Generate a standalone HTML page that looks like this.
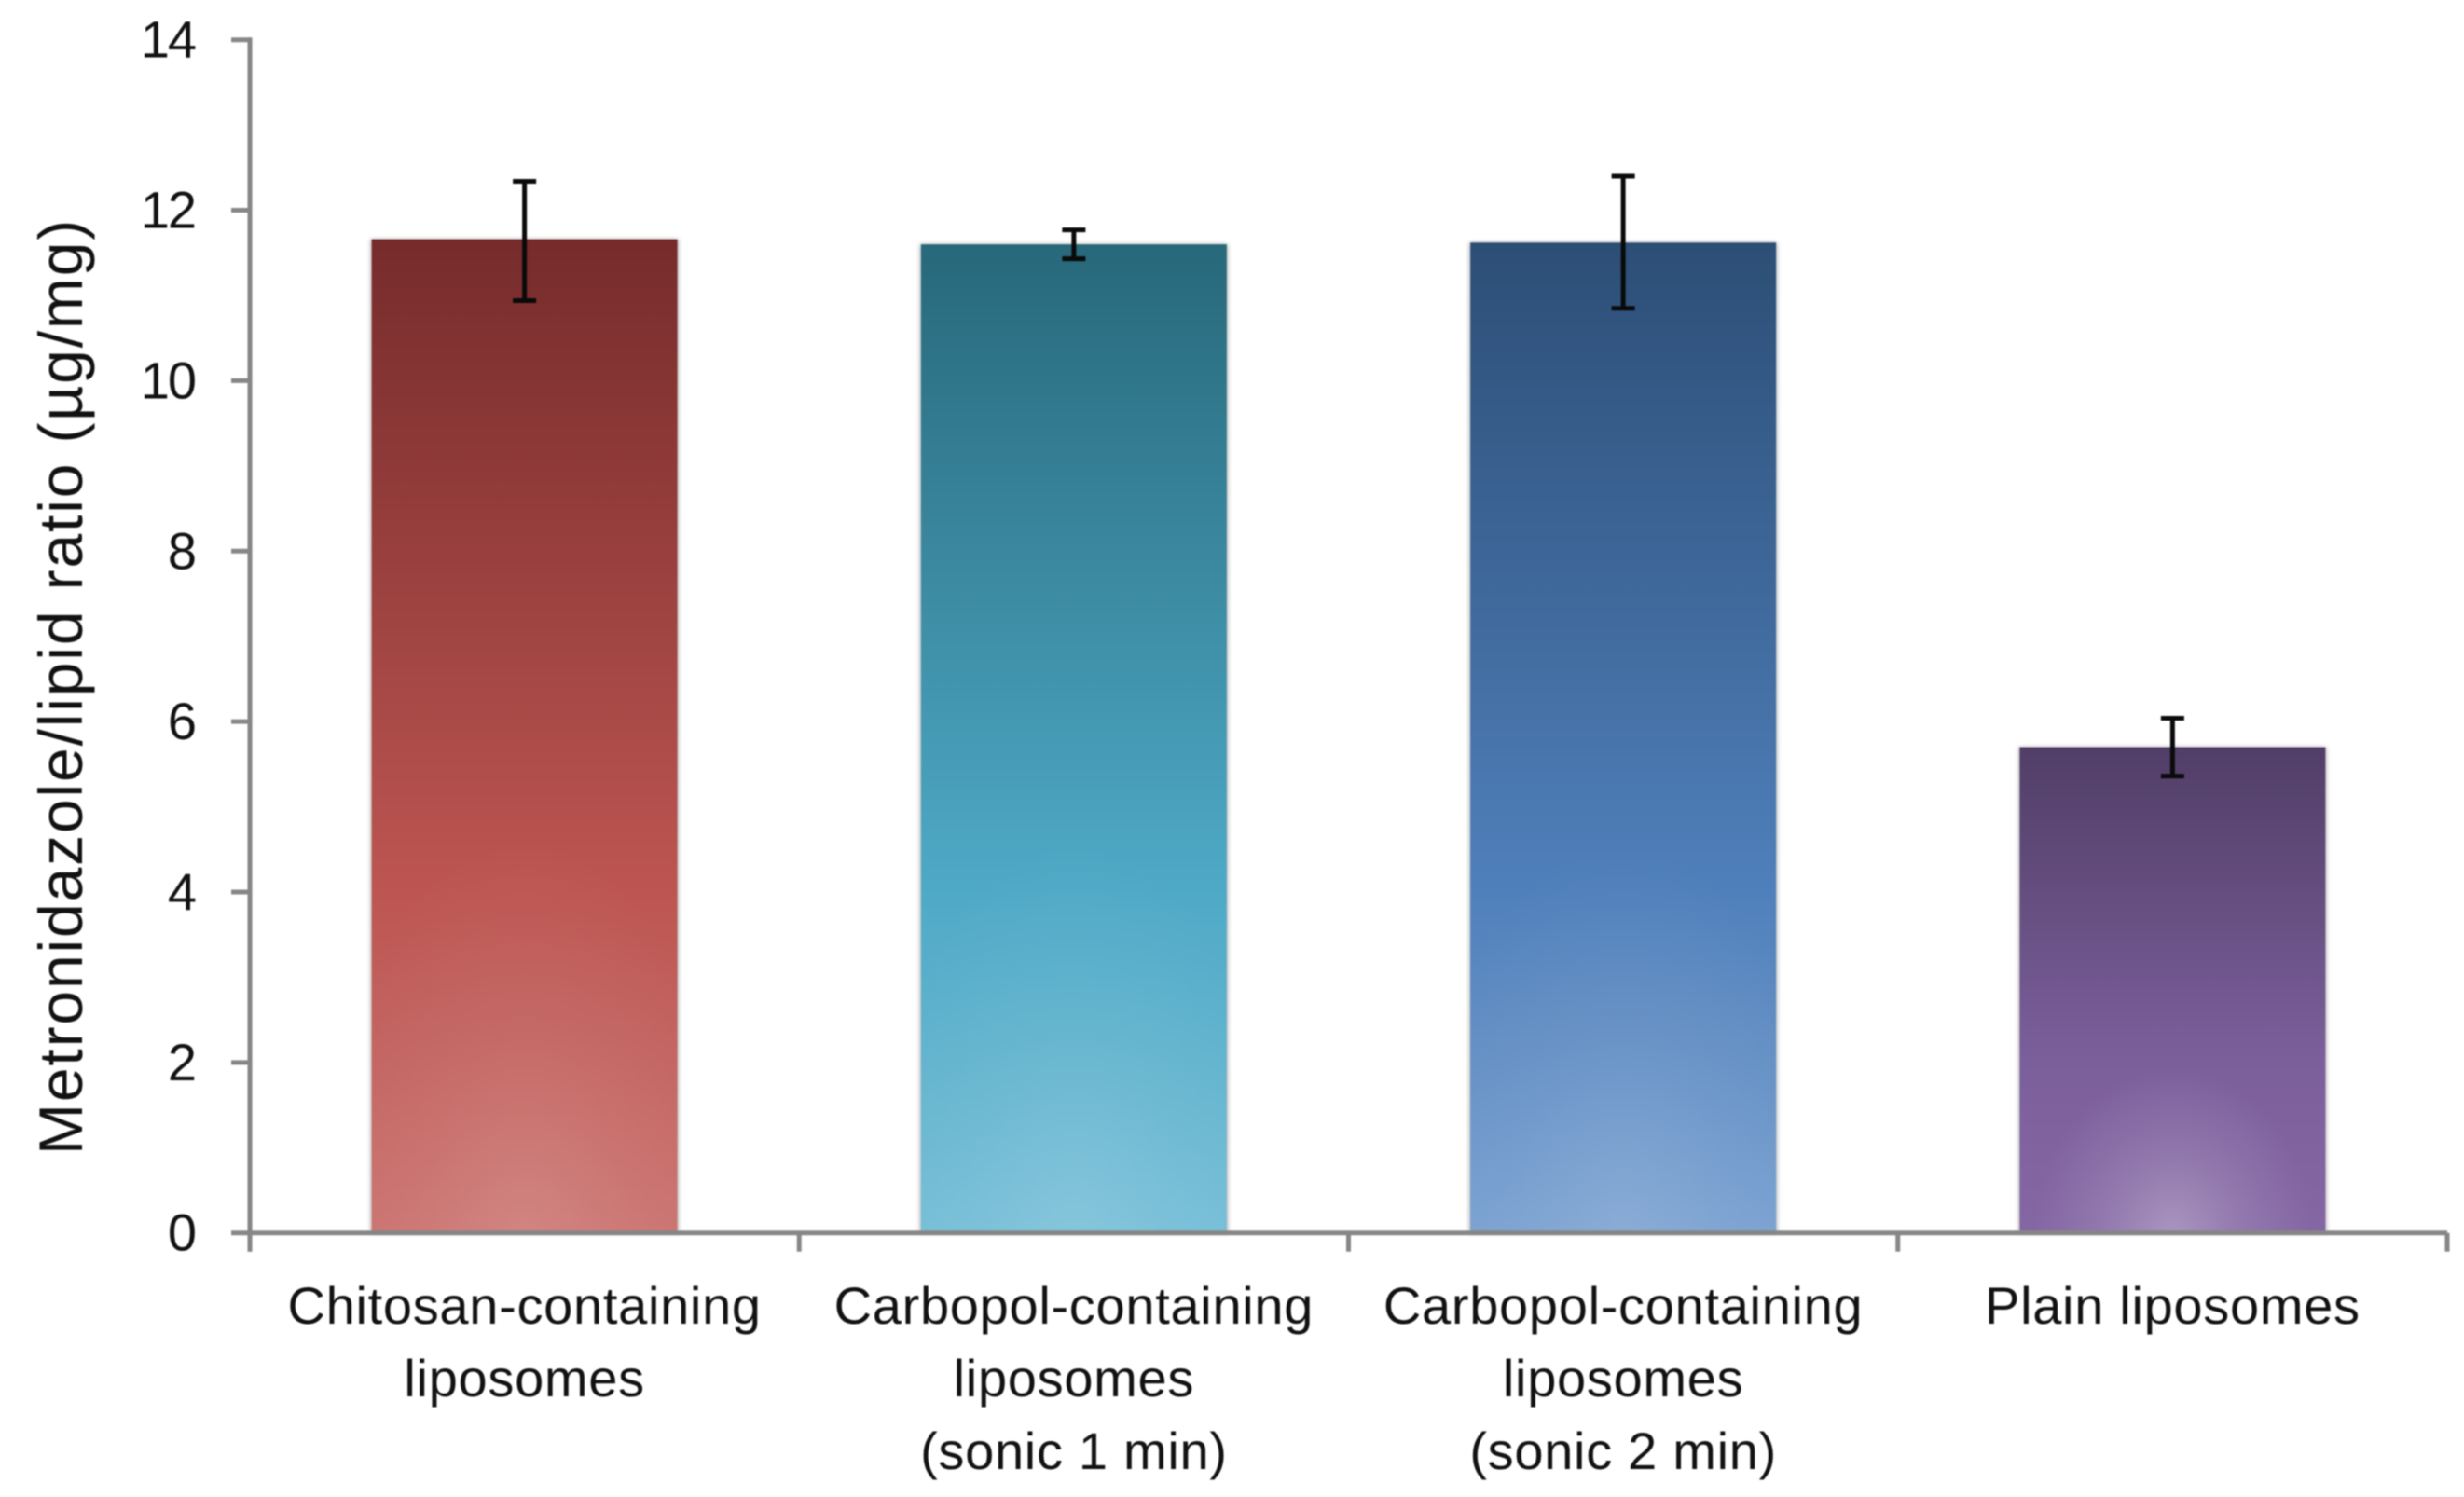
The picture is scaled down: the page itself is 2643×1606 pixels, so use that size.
<!DOCTYPE html>
<html lang="en">
<head>
<meta charset="utf-8">
<title>Metronidazole/lipid ratio by liposome type</title>
<style>
  html, body { margin: 0; padding: 0; background: #fff; }
  svg { display: block; }
  text { font-family: "Liberation Sans", sans-serif; font-size: 56px; fill: #111; }
</style>
</head>
<body>
<svg id="chart" xmlns="http://www.w3.org/2000/svg" width="2643" height="1606" viewBox="0 0 2643 1606">
  <defs>
    <filter id="soft" x="-2%" y="-2%" width="104%" height="104%" color-interpolation-filters="sRGB"><feGaussianBlur stdDeviation="0.7"/></filter>
    <filter id="shadow" x="-5%" y="-5%" width="110%" height="110%" color-interpolation-filters="sRGB"><feGaussianBlur stdDeviation="2.5"/></filter>
  </defs>
  <g id="root" filter="url(#soft)"></g>
</svg>
<script>
const categories = [
  ["Chitosan-containing", "liposomes"],
  ["Carbopol-containing", "liposomes", "(sonic 1 min)"],
  ["Carbopol-containing", "liposomes", "(sonic 2 min)"],
  ["Plain liposomes"]
];
const barKeys = ["chitosan", "carbopol-sonic-1", "carbopol-sonic-2", "plain"];
const ratioValues = [11.66, 11.6, 11.62, 5.7];
const errorUpper = [12.34, 11.77, 12.4, 6.04];
const errorLower = [10.94, 11.43, 10.85, 5.36];
const yTicks = [0, 2, 4, 6, 8, 10, 12, 14];
const yTitle = "Metronidazole/lipid ratio (µg/mg)";

const palette = [
  { top: "#762b2b", mid: "#bc5551", bottom: "#ca726f", glow: 0.13, rx: 0.7, ry: 0.4 },
  { top: "#27687a", mid: "#4ea9c6", bottom: "#74bdd6", glow: 0.13, rx: 0.7, ry: 0.4 },
  { top: "#2c4e76", mid: "#4f7fba", bottom: "#78a0d0", glow: 0.13, rx: 0.7, ry: 0.4 },
  { top: "#513e67", mid: "#7b5f9b", bottom: "#8466a3", glow: 0.3, rx: 0.46, ry: 0.34 }
];

const plot = { left: 268, right: 2625, top: 42.7, bottom: 1322.7 };
const yMax = 14;
const barFraction = 0.56;
const NS = "http://www.w3.org/2000/svg";
const svg = document.getElementById("chart");
const defs = svg.querySelector("defs");
const root = document.getElementById("root");

function yScale(v) { return plot.bottom - (v / yMax) * (plot.bottom - plot.top); }
function bandWidth() { return (plot.right - plot.left) / categories.length; }
function xCenter(i) { return plot.left + bandWidth() * (i + 0.5); }

function make(tag, attrs, parent) {
  const el = document.createElementNS(NS, tag);
  for (const k in attrs) el.setAttribute(k, attrs[k]);
  (parent || root).appendChild(el);
  return el;
}

/* gradients */
palette.forEach(function (p, i) {
  const lin = make("linearGradient", { id: "lin" + i, x1: 0, y1: 0, x2: 0, y2: 1 }, defs);
  make("stop", { offset: 0, "stop-color": p.top }, lin);
  make("stop", { offset: 0.65, "stop-color": p.mid }, lin);
  make("stop", { offset: 1, "stop-color": p.bottom }, lin);
  const rad = make("radialGradient", { id: "rad" + i, cx: 0.5, cy: 1, r: 1, gradientTransform: "translate(.5 1) scale(" + p.rx + " " + p.ry + ") translate(-.5 -1)" }, defs);
  make("stop", { offset: 0, "stop-color": "#fff", "stop-opacity": p.glow }, rad);
  make("stop", { offset: 0.5, "stop-color": "#fff", "stop-opacity": p.glow * 0.4 }, rad);
  make("stop", { offset: 1, "stop-color": "#fff", "stop-opacity": 0 }, rad);
});

/* bars */
ratioValues.forEach(function (v, i) {
  const w = bandWidth() * barFraction;
  const x = xCenter(i) - w / 2;
  const y = yScale(v);
  const h = yScale(0) - y;
  const group = make("g", {});
  
  
  make("rect", { x: x, y: y, width: w, height: h, fill: "#000", opacity: 0.32, filter: "url(#shadow)" }, group);
  make("rect", { x: x + 1, y: y, width: w - 2, height: h, fill: "url(#lin" + i + ")" }, group);
  make("rect", { x: x + 1, y: y, width: w - 2, height: h, fill: "url(#rad" + i + ")" }, group);
});

/* y axis */
const yAxis = make("g", { stroke: "#868686", "stroke-width": 5, fill: "none" });


make("line", { x1: plot.left, y1: yScale(yMax) - 2.5, x2: plot.left, y2: yScale(0) + 20 }, yAxis);
yTicks.forEach(function (t) {
  make("line", { x1: plot.left - 20, y1: yScale(t), x2: plot.left, y2: yScale(t) }, yAxis);
  const label = make("text", { x: 209, y: yScale(t) + 19, "text-anchor": "end", "letter-spacing": -2 });
  label.textContent = t;
  
  
});

/* x axis */
const xAxis = make("g", { stroke: "#868686", "stroke-width": 5, fill: "none" });


make("line", { x1: plot.left, y1: yScale(0), x2: plot.right, y2: yScale(0) }, xAxis);
for (let i = 0; i <= categories.length; i++) {
  const tx = plot.left + bandWidth() * i;
  make("line", { x1: tx, y1: yScale(0), x2: tx, y2: yScale(0) + 20 }, xAxis);
}

/* error bars */
ratioValues.forEach(function (v, i) {
  const cx = xCenter(i);
  const capHalf = 12.5;
  const group = make("g", { stroke: "#0a0a0a", "stroke-width": 5, fill: "none" });
  
  
  make("line", { x1: cx, y1: yScale(errorUpper[i]), x2: cx, y2: yScale(errorLower[i]) }, group);
  make("line", { x1: cx - capHalf, y1: yScale(errorUpper[i]), x2: cx + capHalf, y2: yScale(errorUpper[i]) }, group);
  make("line", { x1: cx - capHalf, y1: yScale(errorLower[i]), x2: cx + capHalf, y2: yScale(errorLower[i]) }, group);
});

/* category labels */
categories.forEach(function (lines, i) {
  const t = make("text", { "text-anchor": "middle", "letter-spacing": 0.7 });
  
  
  lines.forEach(function (line, j) {
    const span = make("tspan", { x: xCenter(i), y: 1420 + j * 78 }, t);
    span.textContent = line;
  });
});

/* y axis title */
const title = make("text", { transform: "translate(88 1239) rotate(-90)", "text-anchor": "start", "letter-spacing": 1.85, style: "font-size:66px" });
title.textContent = yTitle;


</script>
</body>
</html>
